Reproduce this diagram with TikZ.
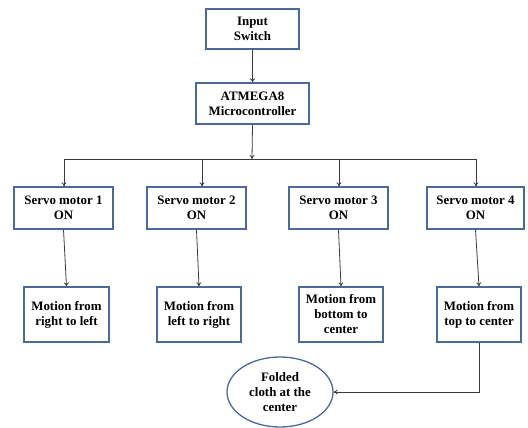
\documentclass[tikz,border=0pt]{standalone}
\usepackage{fontspec}
\setmainfont{Liberation Serif}
\usetikzlibrary{arrows.meta,shapes.geometric}
\begin{document}
\begin{tikzpicture}[x=1pt,y=-1pt,
  blockbox/.style={draw=boxblue,line width=1.3pt,fill=white,align=center,
    font=\fontsize{12.9}{15}\selectfont\bfseries,inner sep=0pt},
  conn/.style={draw=linegray,line width=0.8pt,-{To[length=4pt,width=5pt]}},
  plain/.style={draw=linegray,line width=0.8pt}]
\definecolor{boxblue}{HTML}{4A6A9A}
\definecolor{linegray}{HTML}{3A3A3A}
\useasboundingbox (0,0) rectangle (528,428);
\node[blockbox,minimum width=93pt,minimum height=40pt] (in) at (252.5,29) {Input\\Switch};
\node[blockbox,minimum width=113pt,minimum height=41pt] (mc) at (252.5,103.5) {ATMEGA8\\Microcontroller};
\coordinate (bus) at (252,159);
\coordinate (b1) at (64,159);
\coordinate (b4) at (476,159);
\coordinate (b2) at (202,159);
\coordinate (b3) at (339,159);
\node[blockbox,minimum width=99pt,minimum height=42pt] (s1) at (63.5,208) {Servo motor 1\\ON};
\node[blockbox,minimum width=99pt,minimum height=42pt] (s2) at (196.5,208) {Servo motor 2\\ON};
\node[blockbox,minimum width=99pt,minimum height=42pt] (s3) at (338.5,208) {Servo motor 3\\ON};
\node[blockbox,minimum width=97pt,minimum height=42pt] (s4) at (475.5,208) {Servo motor 4\\ON};
\node[blockbox,minimum width=85pt,minimum height=55pt] (m1) at (66.5,314.5) {Motion from\\right to left};
\node[blockbox,minimum width=84pt,minimum height=55pt] (m2) at (199,314.5) {Motion from\\left to right};
\node[blockbox,minimum width=84pt,minimum height=55pt] (m3) at (341,314.5) {Motion from\\bottom to\\center};
\node[blockbox,minimum width=84pt,minimum height=55pt] (m4) at (479,314.5) {Motion from\\top to center};
\node[blockbox,ellipse,minimum width=106pt,minimum height=70pt] (fc) at (280,392) {Folded\\cloth at the\\center};
\draw[conn] (in.south) -- (mc.north);
\draw[conn] (mc.south) -- (bus);
\draw[plain] (b1) -- (b4);
\draw[conn] (b1) -- (b1 |- s1.north);
\draw[conn] (b2) -- (b2 |- s2.north);
\draw[conn] (b3) -- (b3 |- s3.north);
\draw[conn] (b4) -- (b4 |- s4.north);
\draw[conn] (s1.south) -- (m1.north);
\draw[conn] (s2.south) -- (m2.north);
\draw[conn] (s3.south) -- (m3.north);
\draw[conn] (s4.south) -- (m4.north);
\draw[conn] (m4.south) |- (fc.east);
\end{tikzpicture}
\end{document}
